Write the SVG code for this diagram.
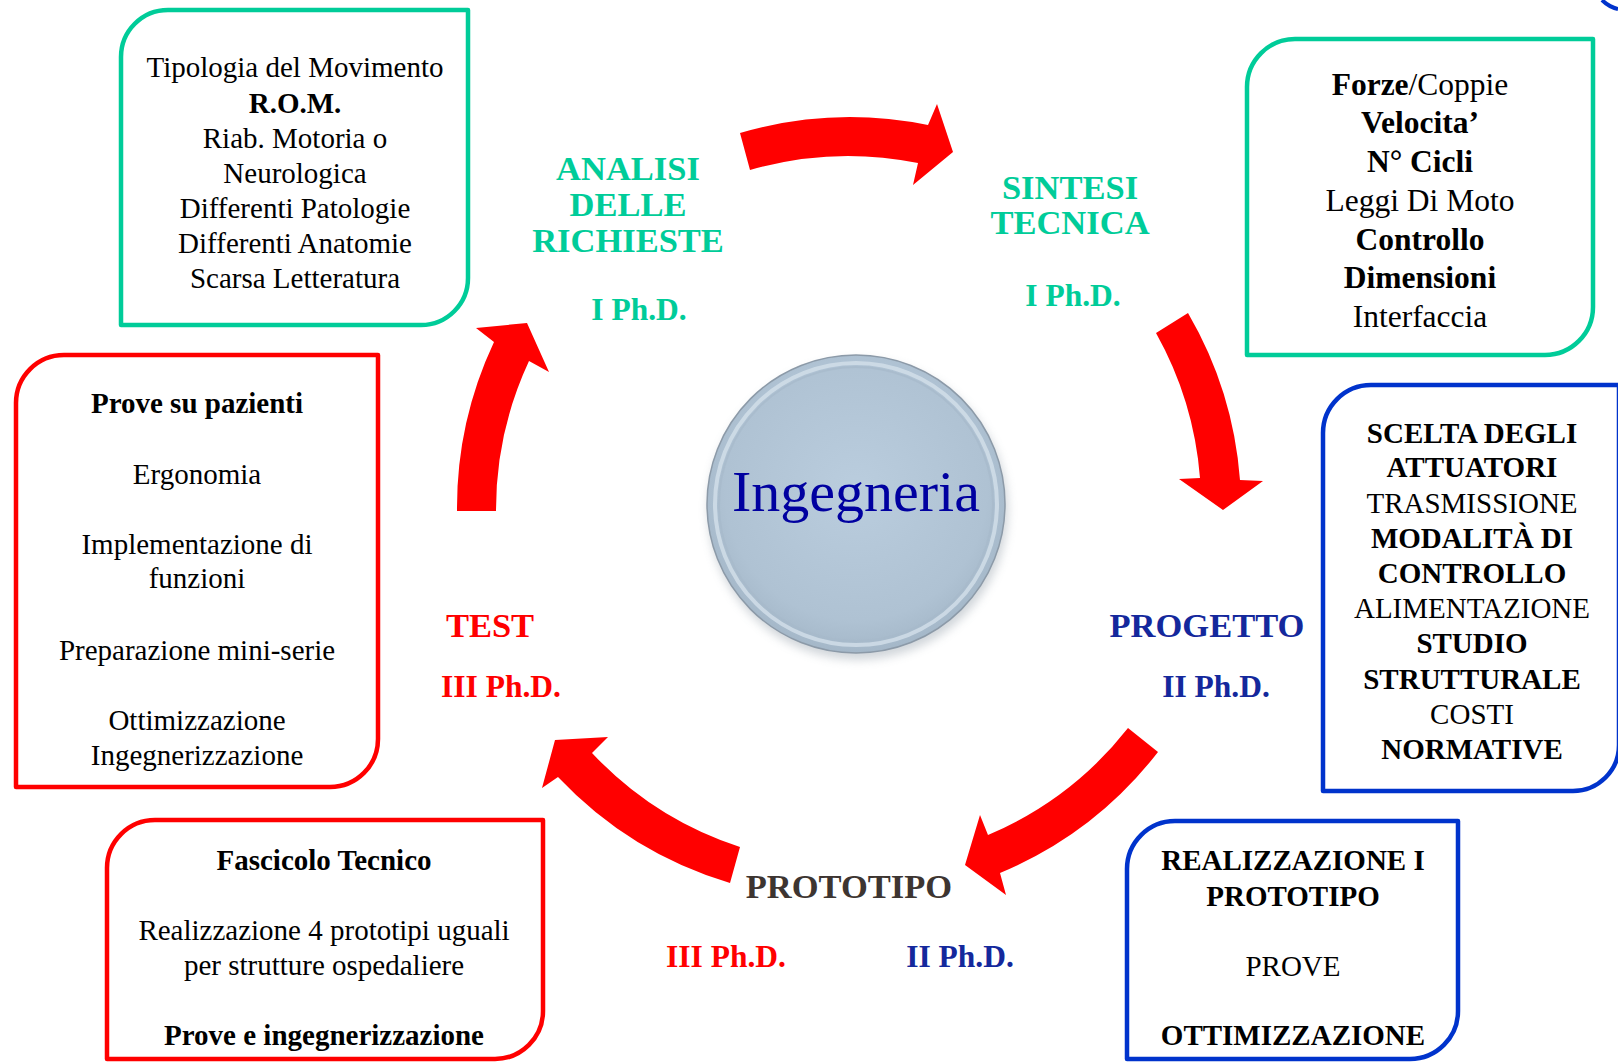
<svg xmlns="http://www.w3.org/2000/svg" width="1618" height="1062" viewBox="0 0 1618 1062">
<style>
.box{fill:#fff;stroke-width:4.5;stroke-linejoin:round}
.g{stroke:#00CC99}
.r{stroke:#FF0000}
.b{stroke:#0033CC}
.t{font-family:"Liberation Serif","Times New Roman",serif;text-anchor:middle;fill:#000;font-size:29px}
.t2{font-size:31.5px}
.bd{font-weight:bold}
.stage{font-family:"Liberation Serif","Times New Roman",serif;text-anchor:middle;font-weight:bold;font-size:34.5px}
.phd{font-family:"Liberation Serif","Times New Roman",serif;text-anchor:middle;font-weight:bold;font-size:31.5px}
.green{fill:#00CC99}
.red{fill:#FF0000}
.navy{fill:#14289C}
.brown{fill:#3D3531}
.arrow{fill:#FF0000}
</style>
<defs>
<radialGradient id="disc" cx="50%" cy="45%" r="55%">
<stop offset="0" stop-color="#BACDDE"/>
<stop offset="0.8" stop-color="#AFC2D3"/>
<stop offset="1" stop-color="#A4B7C8"/>
</radialGradient>
<filter id="shadow" x="-20%" y="-20%" width="140%" height="140%">
<feGaussianBlur stdDeviation="5"/>
</filter>
</defs>
<rect width="1618" height="1062" fill="#fff"/>

<g id="connectors">
<path class="arrow" d="M740,133 A390,390 0 0 1 928,125 L937,104 L953,152 L913,185 L918,163 A353,353 0 0 0 750,170 Z"/>
<path class="arrow" d="M1156,333 L1188,313 A390,390 0 0 1 1240,480 L1263,481 L1223,510 L1179,479 L1200,478 A353,353 0 0 0 1156,333 Z"/>
<path class="arrow" d="M1128,728 L1158,752 A390,390 0 0 1 1000,873 L1006,895 L965,865 L980,815 L988,835 A353,353 0 0 0 1128,728 Z"/>
<path class="arrow" d="M730,883 A390,390 0 0 1 558,777 L542,788 L555,740 L608,737 L592,753 A353,353 0 0 0 740,847 Z"/>
<path class="arrow" d="M457,511 A390,390 0 0 1 494,342 L476,328 L527,323 L549,372 L529,361 A353,353 0 0 0 496,511 Z"/>
</g>

<g id="corner-arc">
<path d="M1602,0 Q1609,7 1618,9" fill="none" stroke="#0033CC" stroke-width="4"/>
</g>

<g id="center">
<circle cx="858" cy="510" r="150" fill="#9AA4AE" opacity="0.45" filter="url(#shadow)"/>
<circle cx="856" cy="504" r="149" fill="url(#disc)" stroke="#8C9AA8" stroke-width="1.5"/>
<circle cx="856" cy="504" r="141" fill="none" stroke="#D3E0EA" stroke-width="4" opacity="0.8"/>
<circle cx="856" cy="504" r="137" fill="none" stroke="#A6B9CA" stroke-width="2" opacity="0.7"/>
<text x="856" y="511" font-family="'Liberation Serif','Times New Roman',serif" font-size="58" text-anchor="middle" fill="#0000A0">Ingegneria</text>
</g>

<g id="analisi">
<text class="stage green" x="628" y="180">ANALISI</text>
<text class="stage green" x="628" y="216">DELLE</text>
<text class="stage green" x="628" y="252">RICHIESTE</text>
<text class="phd green" x="639" y="320">I Ph.D.</text>
</g>
<g id="sintesi">
<text class="stage green" x="1070" y="199">SINTESI</text>
<text class="stage green" x="1070" y="234">TECNICA</text>
<text class="phd green" x="1073" y="306">I Ph.D.</text>
</g>
<g id="progetto">
<text class="stage navy" x="1207" y="637">PROGETTO</text>
<text class="phd navy" x="1216" y="697">II Ph.D.</text>
</g>
<g id="prototipo">
<text class="stage brown" x="849" y="898">PROTOTIPO</text>
<text class="phd red" x="726" y="967">III Ph.D.</text>
<text class="phd navy" x="960" y="967">II Ph.D.</text>
</g>
<g id="test">
<text class="stage red" x="490" y="637">TEST</text>
<text class="phd red" x="501" y="697">III Ph.D.</text>
</g>

<g id="box-requisiti">
<path class="box g" d="M121,57 A47,47 0 0 1 168,10 L468,10 L468,278 A47,47 0 0 1 421,325 L121,325 Z"/>
<text class="t" x="295" y="77">Tipologia del Movimento</text>
<text class="t bd" x="295" y="113">R.O.M.</text>
<text class="t" x="295" y="148">Riab. Motoria o</text>
<text class="t" x="295" y="183">Neurologica</text>
<text class="t" x="295" y="218">Differenti Patologie</text>
<text class="t" x="295" y="253">Differenti Anatomie</text>
<text class="t" x="295" y="288">Scarsa Letteratura</text>
</g>

<g id="box-sintesi">
<path class="box g" d="M1247,87 A48,48 0 0 1 1295,39 L1593,39 L1593,307 A48,48 0 0 1 1545,355 L1247,355 Z"/>
<text class="t t2" x="1420" y="95"><tspan class="bd">Forze</tspan>/Coppie</text>
<text class="t t2 bd" x="1420" y="133">Velocita’</text>
<text class="t t2 bd" x="1420" y="172">N° Cicli</text>
<text class="t t2" x="1420" y="211">Leggi Di Moto</text>
<text class="t t2 bd" x="1420" y="250">Controllo</text>
<text class="t t2 bd" x="1420" y="288">Dimensioni</text>
<text class="t t2" x="1420" y="327">Interfaccia</text>
</g>

<g id="box-progetto">
<path class="box b" d="M1323,433 A48,48 0 0 1 1371,385 L1619,385 L1619,745 A46,46 0 0 1 1573,791 L1323,791 Z"/>
<text class="t bd" x="1472" y="443">SCELTA DEGLI</text>
<text class="t bd" x="1472" y="477">ATTUATORI</text>
<text class="t" x="1472" y="513">TRASMISSIONE</text>
<text class="t bd" x="1472" y="548">MODALITÀ DI</text>
<text class="t bd" x="1472" y="583">CONTROLLO</text>
<text class="t" x="1472" y="618">ALIMENTAZIONE</text>
<text class="t bd" x="1472" y="653">STUDIO</text>
<text class="t bd" x="1472" y="689">STRUTTURALE</text>
<text class="t" x="1472" y="724">COSTI</text>
<text class="t bd" x="1472" y="759">NORMATIVE</text>
</g>

<g id="box-test">
<path class="box r" d="M16,403 A48,48 0 0 1 64,355 L378,355 L378,739 A48,48 0 0 1 330,787 L16,787 Z"/>
<text class="t bd" x="197" y="413">Prove su pazienti</text>
<text class="t" x="197" y="484">Ergonomia</text>
<text class="t" x="197" y="554">Implementazione di</text>
<text class="t" x="197" y="588">funzioni</text>
<text class="t" x="197" y="660">Preparazione mini-serie</text>
<text class="t" x="197" y="730">Ottimizzazione</text>
<text class="t" x="197" y="765">Ingegnerizzazione</text>
</g>

<g id="box-fascicolo">
<path class="box r" d="M107,868 A48,48 0 0 1 155,820 L543,820 L543,1011 A48,48 0 0 1 495,1059 L107,1059 Z"/>
<text class="t bd" x="324" y="870">Fascicolo Tecnico</text>
<text class="t" x="324" y="940">Realizzazione 4 prototipi uguali</text>
<text class="t" x="324" y="975">per strutture ospedaliere</text>
<text class="t bd" x="324" y="1045">Prove e ingegnerizzazione</text>
</g>

<g id="box-prototipo">
<path class="box b" d="M1127,869 A48,48 0 0 1 1175,821 L1458,821 L1458,1011 A48,48 0 0 1 1410,1059 L1127,1059 Z"/>
<text class="t bd" x="1293" y="870">REALIZZAZIONE I</text>
<text class="t bd" x="1293" y="906">PROTOTIPO</text>
<text class="t" x="1293" y="976">PROVE</text>
<text class="t bd" x="1293" y="1045">OTTIMIZZAZIONE</text>
</g>
</svg>
